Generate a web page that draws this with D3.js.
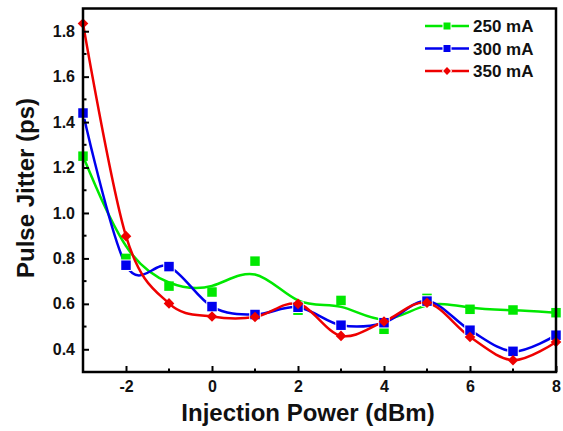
<!DOCTYPE html>
<html>
<head>
<meta charset="utf-8">
<script src="https://cdn.jsdelivr.net/npm/d3@7"></script>
<style>
  body { margin: 0; background: #fff; }
  svg text { font-family: "Liberation Sans", Arial, sans-serif; font-weight: bold; fill: #111; }
</style>
</head>
<body>
<div id="chart"></div>
<script>
var power = [-3, -2, -1, 0, 1, 2, 3, 4, 5, 6, 7, 8];
var jitter250 = [1.25, 0.80, 0.678, 0.652, 0.788, 0.572, 0.615, 0.488, 0.624, 0.576, 0.573, 0.561];
var jitter300 = [1.44, 0.77, 0.764, 0.588, 0.553, 0.585, 0.506, 0.517, 0.612, 0.484, 0.391, 0.462];
var jitter350 = [1.834, 0.898, 0.602, 0.544, 0.542, 0.60, 0.459, 0.522, 0.605, 0.454, 0.352, 0.432];
var seriesNames = ["250 mA", "300 mA", "350 mA"];
var xTicks = [-2, 0, 2, 4, 6, 8];
var yTicks = [0.4, 0.6, 0.8, 1.0, 1.2, 1.4, 1.6, 1.8];

var attrs = {
    width: 563,
    height: 431,
    margin: { top: 8.5, right: 7, bottom: 59, left: 83 },
    colors: ["#00e800", "#0000ee", "#ee0000"],
    strokeWidth: 2.5
};
var w = attrs.width - attrs.margin.left - attrs.margin.right;
var h = attrs.height - attrs.margin.top - attrs.margin.bottom;

var spline = d3.curveCardinal.tension(0);
var series = [
    { name: seriesNames[0], values: jitter250, color: attrs.colors[0], diamond: false, curve: d3.curveBasis, halo: false },
    { name: seriesNames[1], values: jitter300, color: attrs.colors[1], diamond: false, curve: spline, halo: true },
    { name: seriesNames[2], values: jitter350, color: attrs.colors[2], diamond: true, curve: spline, halo: false }
];

var svg = d3.select("#chart").append("svg")
    .attr("width", attrs.width)
    .attr("height", attrs.height);
var g = svg.append("g")
    .attr("transform", "translate(" + attrs.margin.left + "," + attrs.margin.top + ")");

var x = d3.scaleLinear().domain([-3, 8]).range([0, w]);
var y = d3.scaleLinear().domain([0.3, 1.9]).range([h, 0]);

svg.append("clipPath").attr("id", "clip")
    .append("rect").attr("width", w).attr("height", h);

var plot = g.append("g").attr("clip-path", "url(#clip)");

function marker(sel, s, side){
    sel.attr("d", d3.symbol().type(d3.symbolSquare).size(side * side))
        .attr("fill", s.color);
    if (s.diamond) {
        sel.attr("transform", function(){ return d3.select(this).attr("transform") + " rotate(45)"; });
    }
}

series.forEach(function(s){
    var pts = power.map(function(p, i){ return [p, s.values[i]]; });
    var line = d3.line()
        .x(function(d){ return x(d[0]); })
        .y(function(d){ return y(d[1]); })
        .curve(s.curve);
    plot.append("path")
        .datum(pts)
        .attr("fill", "none")
        .attr("stroke", s.color)
        .attr("stroke-width", attrs.strokeWidth)
        .attr("d", line);
    g.selectAll(null).data(pts).enter()
        .append("path")
        .attr("transform", function(d){ return "translate(" + x(d[0]) + "," + y(d[1]) + ")"; })
        .call(marker, s, s.diamond ? 7.5 : 9.5)
        .attr("stroke", s.halo ? "#fff" : "none")
        .attr("stroke-width", s.halo ? 2 : 0)
        .attr("paint-order", "stroke");
});

// axes
var xAxis = d3.axisBottom(x).tickValues(xTicks).tickSizeInner(-6).tickSizeOuter(0).tickPadding(9)
    .tickFormat(function(d){ return String(d); });
var yAxis = d3.axisLeft(y).tickValues(yTicks).tickSizeInner(-6).tickSizeOuter(0).tickPadding(8)
    .tickFormat(function(d){ return d.toFixed(1); });

var gx = g.append("g").attr("transform", "translate(0," + h + ")").call(xAxis);
var gy = g.append("g").call(yAxis);

// minor ticks
var xMinor = [-1, 1, 3, 5, 7];
var yMinor = [0.5, 0.7, 0.9, 1.1, 1.3, 1.5, 1.7];
gx.selectAll(".minor").data(xMinor).enter().append("line")
    .attr("x1", function(d){ return x(d); }).attr("x2", function(d){ return x(d); })
    .attr("y1", 0).attr("y2", -3.5);
gy.selectAll(".minor").data(yMinor).enter().append("line")
    .attr("y1", function(d){ return y(d); }).attr("y2", function(d){ return y(d); })
    .attr("x1", 0).attr("x2", 3.5);

[gx, gy].forEach(function(a){
    a.select(".domain").remove();
    a.selectAll("line").attr("stroke", "#000").attr("stroke-width", 2);
    a.selectAll("text").style("font-size", "16px").style("font-family", "'Liberation Sans', Arial, sans-serif").style("font-weight", "bold").attr("fill", "#111");
});

g.append("rect")
    .attr("width", w).attr("height", h)
    .attr("fill", "none").attr("stroke", "#000").attr("stroke-width", 2.5);

// axis titles
svg.append("text")
    .attr("x", 308)
    .attr("y", 421)
    .attr("text-anchor", "middle")
    .style("font-size", "24px")
    .text("Injection Power (dBm)");
svg.append("text")
    .attr("transform", "translate(34,188) rotate(-90)")
    .attr("text-anchor", "middle")
    .style("font-size", "24px")
    .text("Pulse Jitter (ps)");

// legend
var legend = svg.append("g").attr("transform", "translate(425,26)");
series.forEach(function(s, i){
    var row = legend.append("g").attr("transform", "translate(0," + i * 22.5 + ")");
    row.append("line").attr("x1", 0).attr("x2", 44).attr("y1", 0).attr("y2", 0)
        .attr("stroke", s.color).attr("stroke-width", attrs.strokeWidth);
    row.append("path")
        .attr("transform", "translate(22,0)")
        .call(marker, s, s.diamond ? 5.5 : 7)
        .attr("stroke", "#fff").attr("stroke-width", 2).attr("paint-order", "stroke");
    row.append("text").attr("x", 48).attr("y", 6)
        .style("font-size", "17px")
        .text(s.name);
});
</script>
</body>
</html>
